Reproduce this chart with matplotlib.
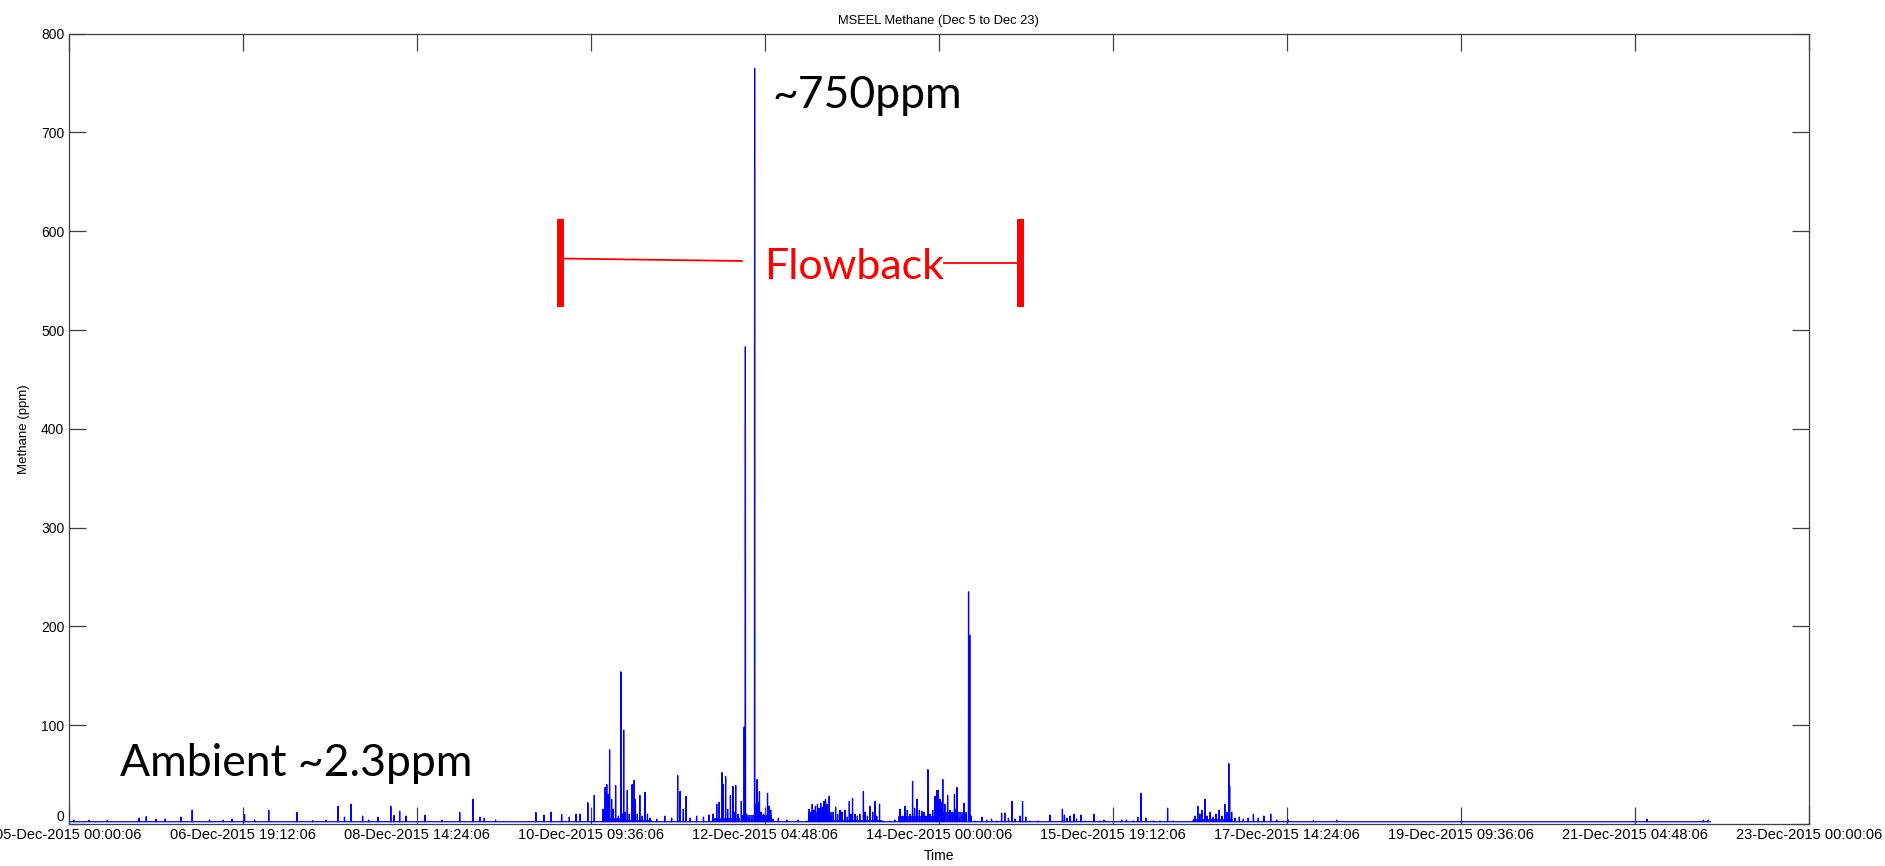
import numpy as np
import pandas as pd
import matplotlib
matplotlib.use("Agg")
import matplotlib.pyplot as plt
from matplotlib.lines import Line2D

# hours after 05-Dec-2015 00:00:06 and methane peaks (ppm)
peak_hours = [1.3, 5.1, 9.6, 17.5, 19.3, 21.7, 24.0, 27.9, 30.7, 35.0, 38.4, 40.6, 43.7, 46.2,
              49.7, 56.7, 60.6, 63.9, 66.9, 68.5, 70.1, 73.0, 74.5, 76.8, 80.0, 80.8, 82.2, 83.8,
              88.5, 92.7, 97.1, 100.4, 102.1, 103.2, 106.0,
              116.0, 118.0, 119.8, 122.4, 124.3, 126.0, 127.0, 128.9, 130.5, 132.7, 133.2, 133.6,
              134.0, 134.3, 134.8, 135.2, 135.8, 136.5, 137.1, 137.5, 137.8, 138.2, 138.7, 139.2,
              139.9, 140.4, 140.7, 141.2, 141.8, 142.4, 143.1, 143.7, 144.3, 146.0, 148.0, 149.7,
              151.2, 151.8, 152.6, 153.3, 154.3, 155.9, 157.6, 159.0, 160.0, 160.9, 161.5, 162.2,
              162.5, 163.1, 163.6, 164.3, 164.9, 165.2, 165.6, 166.2, 167.0, 167.3, 167.7, 168.0,
              168.3, 169.0, 169.6, 170.3, 170.6, 170.9, 171.1, 171.5, 171.9, 172.5, 173.0, 173.5,
              173.9, 174.3, 174.9, 176.2, 178.3, 181.1, 183.2,
              183.8, 184.2, 184.6, 185.0, 185.4, 185.9, 186.3, 186.7, 187.1, 187.5, 187.9, 188.3,
              188.8, 189.3, 189.8, 190.4, 190.9, 191.5, 192.0, 192.7, 193.3, 193.8, 194.2, 194.6,
              195.2, 195.8, 196.4, 197.3, 197.7, 198.3, 198.9, 199.6, 200.2, 200.6, 201.3, 202.2,
              203.9, 205.1, 206.4, 207.0, 207.6, 208.2, 208.9, 209.5, 210.0, 210.6, 211.2, 211.8,
              212.3, 212.8, 213.3, 213.8, 214.5, 215.1, 215.5, 215.9, 216.3, 216.7, 217.0, 217.5,
              218.2, 218.8, 219.4, 219.9, 220.3, 220.5, 221.1, 221.7, 222.3, 222.8, 223.4, 223.7,
              224.0, 225.0, 226.7, 227.9, 229.1, 230.4, 231.6, 232.4, 233.3, 234.2, 234.9, 236.2,
              236.8, 237.6, 238.6, 240.7, 243.6,
              246.7, 247.2, 247.8, 248.6, 249.6, 250.2, 251.3, 252.3, 254.5, 256.0, 257.0, 261.4,
              262.6, 264.3, 265.4, 266.2, 267.4, 269.3, 270.9, 272.8, 274.2, 279.2, 279.6, 280.3,
              280.8, 281.3, 282.1, 282.6, 283.3, 284.1, 284.8, 285.6, 286.3, 287.0, 287.5, 288.0,
              288.2, 288.7, 289.5, 290.6, 291.6, 292.8, 294.1, 295.3, 296.7, 298.4, 299.9, 301.5,
              302.8, 309.0, 314.8, 391.8, 405.8, 407.0]
peak_ppm = [4, 4, 3.5, 6, 7.5, 5, 5, 7, 14, 4, 4, 5, 9.6, 4,
            14, 11.7, 3.5, 4, 17.8, 7, 20, 8, 4, 7, 18, 8.6, 13, 8,
            9, 4, 11.7, 25, 7, 6, 4,
            11.7, 9, 12, 9.6, 7, 10, 10, 21.6, 29, 15, 37, 40,
            30, 75, 25, 15, 39, 8, 154, 10, 95, 12, 34, 10,
            40, 44, 25, 10, 29, 8, 32, 10, 6, 5, 8, 6,
            49, 33, 15, 28, 6, 8, 7, 9, 10, 20, 22, 52,
            40, 48, 15, 29, 38, 12, 39, 10, 23, 8, 98, 483,
            10, 6, 4, 765, 20, 45, 22, 33, 12, 10, 8, 31,
            18, 14, 5, 6, 4, 4, 3,
            15, 12, 20, 14, 18, 20, 16, 21, 17, 23, 25, 20,
            28, 8, 12, 17, 10, 14, 12, 14, 7, 23, 10, 26,
            10, 8, 10, 33, 12, 8, 18, 12, 23, 8, 20, 3,
            3, 4, 15, 8, 18, 14, 10, 43, 16, 25, 14, 13,
            12, 8, 55, 10, 14, 28, 34, 34, 25, 22, 45, 20,
            29, 14, 12, 30, 15, 37, 6, 8, 21, 10, 235, 191,
            8, 3, 7, 4, 5, 3, 11, 11, 6, 23, 5, 8,
            23, 7, 3, 3, 9,
            15, 9, 6, 8, 10, 5, 9, 3, 10, 3, 4, 4,
            4, 3, 7, 31, 6, 3, 3, 16, 3, 4, 8, 18,
            10, 14, 25, 8, 12, 7, 10, 14, 8, 20, 12, 61,
            38, 12, 6, 7, 5, 6, 10, 6, 8, 10, 4, 3,
            4, 3.5, 4, 5, 4, 4]

# busy stretches: dense readings fill the band up to these levels
busy_start = [132.5, 137.3, 160.0, 166.8, 183.5, 189.5, 205.9, 214.8, 279.0]
busy_end = [137.0, 144.9, 166.7, 174.5, 189.4, 202.0, 214.7, 222.9, 289.0]
busy_floor = [6, 4.5, 6, 9, 12, 4.5, 8, 12, 5]

ambient_ppm = 2.3
first_hour = 0.3
last_hour = 407.5

start = pd.Timestamp("2015-12-05 00:00:06")
tick_hours = [0, 43.2, 86.4, 129.6, 172.8, 216, 259.2, 302.4, 345.6, 388.8, 432]

hrs = [first_hour]
vals = [ambient_ppm]
for h, p in zip(peak_hours, peak_ppm):
    hrs += [h - 0.05, h, h + 0.05]
    vals += [ambient_ppm, p, ambient_ppm]
hrs.append(last_hour)
vals.append(ambient_ppm)
times = start + pd.to_timedelta(np.array(hrs), unit="h")

W, H = 1885, 866
fig = plt.figure(figsize=(W / 100, H / 100), dpi=100)
ax = fig.add_axes([68.5 / W, 1 - 824 / H, (1809 - 68.5) / W, (824 - 33.7) / H])

for a, b, f in zip(busy_start, busy_end, busy_floor):
    ax.fill_between([start + pd.Timedelta(hours=a), start + pd.Timedelta(hours=b)],
                    ambient_ppm, f, color="#0000ff", alpha=0.85, lw=0)
ax.plot(times, vals, color="#0000ff", lw=0.9)

ax.set_xlim(start, start + pd.Timedelta(hours=432))
ax.set_ylim(0, 800)
ax.set_yticks(range(0, 801, 100))
xt = [start + pd.Timedelta(hours=h) for h in tick_hours]
ax.set_xticks(xt)
ax.set_xticklabels([t.strftime("%d-%b-%Y %H:%M:%S") for t in xt])

tick_font = "Liberation Sans"
ax.tick_params(direction="in", length=12, width=0.9, color="#404040", top=True, right=True, pad=3)
ax.tick_params(axis="x", labelsize=10.5)
ax.tick_params(axis="y", labelsize=10)
for lab in ax.get_xticklabels() + ax.get_yticklabels():
    lab.set_family(tick_font)
# the 0 label sits just above the bottom axis, as in the original
ax.get_yticklabels()[0].set_verticalalignment("bottom")
for s in ax.spines.values():
    s.set_color("#404040")
    s.set_linewidth(0.9)

ax.set_title("MSEEL Methane (Dec 5 to Dec 23)", family=tick_font, fontsize=9.3, pad=7)
ax.set_xlabel("Time", family=tick_font, fontsize=10, labelpad=5)
ax.set_ylabel("Methane (ppm)", family=tick_font, fontsize=9.5, labelpad=8)


def fx(x):
    return x / W


def fy(y):
    return 1 - y / H


big = "Lato"
fig.text(fx(772), fy(108), "~750ppm", family=big, fontsize=32, color="black", va="baseline")
fig.text(fx(120), fy(776), "Ambient ~2.3ppm", family=big, fontsize=32, color="black", va="baseline")
fig.text(fx(764), fy(279), "Flowback", family=big, fontsize=31, color="red", va="baseline")

fig.add_artist(Line2D([fx(560), fx(560)], [fy(222), fy(303)], color="red", lw=5))
fig.add_artist(Line2D([fx(1019.5), fx(1019.5)], [fy(222), fy(303)], color="red", lw=5))
fig.add_artist(Line2D([fx(560), fx(742)], [fy(258.5), fy(261)], color="red", lw=1.3))
fig.add_artist(Line2D([fx(944), fx(1019.5)], [fy(263.3), fy(263.3)], color="red", lw=1.3))

fig.savefig("out.png", dpi=100)
